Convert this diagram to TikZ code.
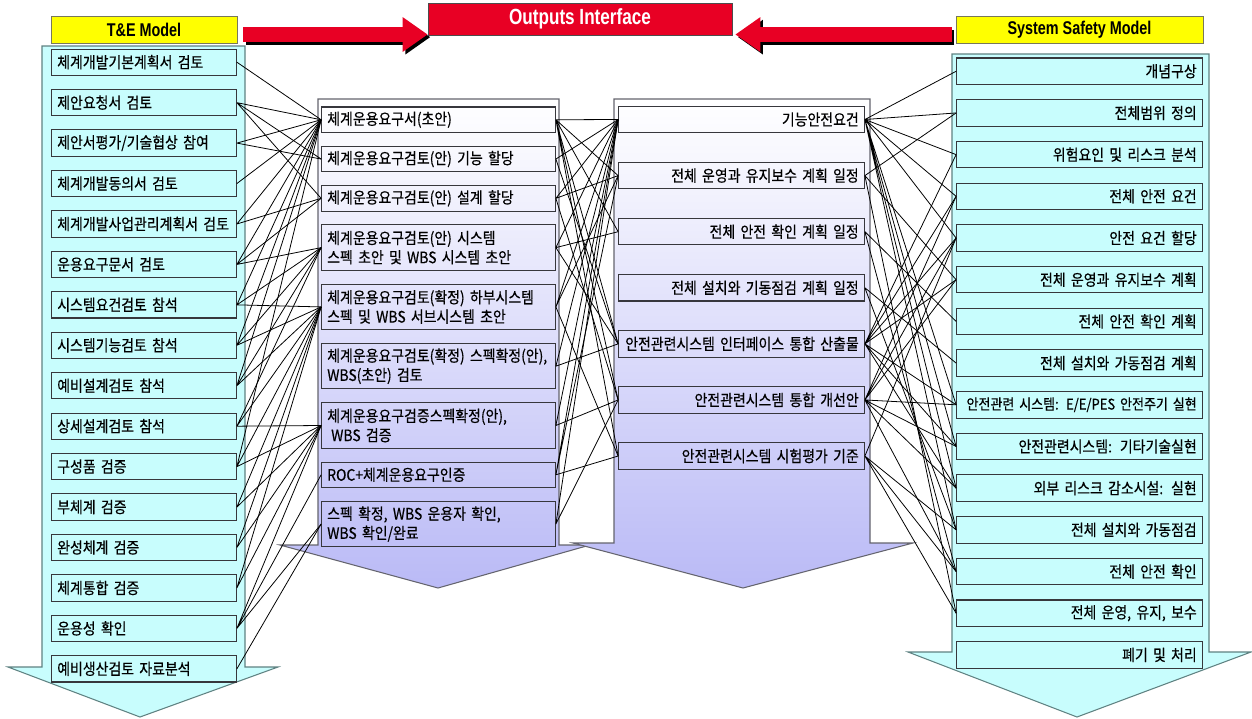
\documentclass[tikz,border=0pt]{standalone}
\usepackage{fontspec}
\usepackage{xcolor}
\usepackage{tikz}
\usetikzlibrary{arrows.meta, positioning, calc}
\newfontfamily\kofont{Noto Sans CJK KR}[FakeStretch=0.88, FakeBold=0.4]
\newfontfamily\headfont{Liberation Sans}[FakeStretch=0.78]
\definecolor{tecyan}{RGB}{200, 253, 253}
\definecolor{cyanline}{RGB}{95, 130, 130}
\definecolor{lavender}{RGB}{186, 186, 246}
\definecolor{lavline}{RGB}{100, 100, 110}
\definecolor{boxline}{RGB}{55, 55, 60}
\definecolor{headyellow}{RGB}{255, 255, 0}
\definecolor{headline}{RGB}{120, 120, 90}
\definecolor{arrowred}{RGB}{232, 0, 36}

\begin{document}
\begin{tikzpicture}[x=0.02cm, y=-0.02cm,
    box/.style={
      draw=boxline, line width=0.6pt, inner xsep=3.5pt, inner ysep=1pt, outer sep=0pt,
      font=\kofont\fontsize{9}{11}\selectfont
    },
    teitem/.style={box, fill=tecyan, text width=3.47cm, align=left, minimum height=0.526cm},
    lmitem/.style={box, text width=4.45cm, align=left, minimum height=0.51cm},
    lmtwo/.style={lmitem, minimum height=0.91cm},
    mritem/.style={box, text width=4.69cm, align=right, minimum height=0.53cm},
    ssitem/.style={box, fill=tecyan, text width=4.69cm, align=right, minimum height=0.53cm},
    header/.style={draw=headline, fill=headyellow, minimum height=0.54cm, inner sep=0pt,
      font=\headfont\bfseries\fontsize{10.5}{12}\selectfont},
    titlebox/.style={fill=arrowred, draw=black!70, text=white, inner sep=0pt,
      minimum width=6.08cm, minimum height=0.64cm,
      font=\headfont\bfseries\fontsize{12.5}{14}\selectfont},
    bigred/.style={line width=8.5pt, draw=arrowred, -{Triangle[length=0.5cm, width=0.66cm]}},
    bigshadow/.style={bigred, draw=black, transform canvas={shift={(1.5pt,-1.5pt)}}},
    cyanbody/.style={fill=tecyan, draw=cyanline, line width=0.6pt},
    lavbody/.style={top color=white, bottom color=lavender, draw=lavline, line width=0.6pt},
    link/.style={line width=0.45pt, draw=black}
]
  \useasboundingbox (0,0) rectangle (1252,718);
  \fill[white] (0,0) rectangle (1252,718);

  % Big down arrows
  \draw[cyanbody] (42,46) -- (245,46) -- (245,667) -- (278,667) -- (140,717)
    -- (8,667) -- (42,667) -- cycle;
  \draw[cyanbody] (952,54) -- (1209,54) -- (1209,652) -- (1251,652) -- (1077,717)
    -- (908,652) -- (952,652) -- cycle;
  \draw[lavbody] (318,99) -- (559,99) -- (559,545) -- (590,545) -- (438,588)
    -- (280,545) -- (318,545) -- cycle;
  \draw[lavbody] (614,99) -- (870,99) -- (870,543) -- (913,543) -- (743,588)
    -- (573,543) -- (614,543) -- cycle;

  % Headers
  \node[header, minimum width=3.72cm] (teheader) at (144,29.5) {T\&E Model};
  \node[header, minimum width=4.94cm] (ssheader) at (1079.5,29.5) {System Safety Model};
  \node[titlebox] (outhead) at (580,19) {Outputs Interface};

  \draw[bigshadow] ($(teheader.east)+(6,5)$) -- ($(teheader.east -| outhead.west)+(0,5)$);
  \draw[bigred] ($(teheader.east)+(6,5)$) -- ($(teheader.east -| outhead.west)+(0,5)$);
  \draw[bigshadow] ($(ssheader.west)+(-4,5)$) -- ($(ssheader.west -| outhead.east)+(3,5)$);
  \draw[bigred] ($(ssheader.west)+(-4,5)$) -- ($(ssheader.west -| outhead.east)+(3,5)$);

  % T&E Model
  \node[teitem] (t1) at (144,62.2) {체계개발기본계획서 검토};
  \node[teitem, below=0.283cm of t1] (t2) {제안요청서 검토};
  \node[teitem, below=0.283cm of t2] (t3) {제안서평가/기술협상 참여};
  \node[teitem, below=0.283cm of t3] (t4) {체계개발동의서 검토};
  \node[teitem, below=0.283cm of t4] (t5) {체계개발사업관리계획서 검토};
  \node[teitem, below=0.283cm of t5] (t6) {운용요구문서 검토};
  \node[teitem, below=0.283cm of t6] (t7) {시스템요건검토 참석};
  \node[teitem, below=0.283cm of t7] (t8) {시스템기능검토 참석};
  \node[teitem, below=0.283cm of t8] (t9) {예비설계검토 참석};
  \node[teitem, below=0.283cm of t9] (t10) {상세설계검토 참석};
  \node[teitem, below=0.283cm of t10] (t11) {구성품 검증};
  \node[teitem, below=0.283cm of t11] (t12) {부체계 검증};
  \node[teitem, below=0.283cm of t12] (t13) {완성체계 검증};
  \node[teitem, below=0.283cm of t13] (t14) {체계통합 검증};
  \node[teitem, below=0.283cm of t14] (t15) {운용성 확인};
  \node[teitem, below=0.283cm of t15] (t16) {예비생산검토 자료분석};

  % Outputs Interface, left
  \node[lmitem] (lm1) at (438.5,119.75) {체계운용요구서(초안)};
  \node[lmitem, below=0.276cm of lm1] (lm2) {체계운용요구검토(안) 기능 할당};
  \node[lmitem, below=0.276cm of lm2] (lm3) {체계운용요구검토(안) 설계 할당};
  \node[lmtwo, below=0.276cm of lm3] (lm4) {체계운용요구검토(안) 시스템\\스펙 초안 및 WBS 시스템 초안};
  \node[lmtwo, below=0.276cm of lm4] (lm5) {체계운용요구검토(확정) 하부시스템\\스펙 및 WBS 서브시스템 초안};
  \node[lmtwo, below=0.276cm of lm5] (lm6) {체계운용요구검토(확정) 스펙확정(안),\\WBS(초안) 검토};
  \node[lmtwo, below=0.276cm of lm6] (lm7) {체계운용요구검증스펙확정(안),\\\hspace*{0.25em}WBS 검증};
  \node[lmitem, below=0.276cm of lm7] (lm8) {ROC+체계운용요구인증};
  \node[lmtwo, below=0.276cm of lm8] (lm9) {스펙 확정, WBS 운용자 확인,\\WBS 확인/완료};

  % Outputs Interface, right
  \node[mritem] (mr1) at (741.5,119.5) {기능안전요건};
  \node[mritem, below=0.592cm of mr1] (mr2) {전체 운영과 유지보수 계획 일정};
  \node[mritem, below=0.592cm of mr2] (mr3) {전체 안전 확인 계획 일정};
  \node[mritem, below=0.592cm of mr3] (mr4) {전체 설치와 기동점검 계획 일정};
  \node[mritem, below=0.592cm of mr4] (mr5) {안전관련시스템 인터페이스 통합 산출물};
  \node[mritem, below=0.592cm of mr5] (mr6) {안전관련시스템 통합 개선안};
  \node[mritem, below=0.592cm of mr6] (mr7) {안전관련시스템 시험평가 기준};

  % System Safety Model
  \node[ssitem] (ss1) at (1079.5,71.25) {개념구상};
  \node[ssitem, below=0.304cm of ss1] (ss2) {전체범위 정의};
  \node[ssitem, below=0.304cm of ss2] (ss3) {위험요인 및 리스크 분석};
  \node[ssitem, below=0.304cm of ss3] (ss4) {전체 안전 요건};
  \node[ssitem, below=0.304cm of ss4] (ss5) {안전 요건 할당};
  \node[ssitem, below=0.304cm of ss5] (ss6) {전체 운영과 유지보수 계획};
  \node[ssitem, below=0.304cm of ss6] (ss7) {전체 안전 확인 계획};
  \node[ssitem, below=0.304cm of ss7] (ss8) {전체 설치와 가동점검 계획};
  \node[ssitem, below=0.304cm of ss8, font=\kofont\fontsize{8.4}{10}\selectfont] (ss9)
    {안전관련 시스템: E/E/PES 안전주기 실현};
  \node[ssitem, below=0.304cm of ss9] (ss10) {안전관련시스템: 기타기술실현};
  \node[ssitem, below=0.304cm of ss10] (ss11) {외부 리스크 감소시설: 실현};
  \node[ssitem, below=0.304cm of ss11] (ss12) {전체 설치와 가동점검};
  \node[ssitem, below=0.304cm of ss12] (ss13) {전체 안전 확인};
  \node[ssitem, below=0.304cm of ss13] (ss14) {전체 운영, 유지, 보수};
  \node[ssitem, below=0.304cm of ss14] (ss15) {폐기 및 처리};

  % T&E -> outputs
  \draw[link] (t1.east) -- (lm1.west);
  \draw[link] (t2.east) -- (lm1.west) (t2.east) -- (lm2.west) (t2.east) -- (lm3.west);
  \draw[link] (t3.east) -- (lm1.west) (t3.east) -- (lm2.west);
  \draw[link] (t4.east) -- (lm1.west);
  \draw[link] (t5.east) -- (lm1.west) (t5.east) -- (lm3.west);
  \draw[link] (t6.east) -- (lm1.west) (t6.east) -- (lm3.west) (t6.east) -- (lm4.west);
  \draw[link] (t7.east) -- (lm1.west) (t7.east) -- (lm4.west) (t7.east) -- (lm5.west);
  \draw[link] (t8.east) -- (lm1.west) (t8.east) -- (lm4.west) (t8.east) -- (lm5.west);
  \draw[link] (t9.east) -- (lm1.west) (t9.east) -- (lm4.west) (t9.east) -- (lm5.west);
  \draw[link] (t10.east) -- (lm4.west) (t10.east) -- (lm5.west) (t10.east) -- (lm7.west);
  \draw[link] (t11.east) -- (lm1.west) (t11.east) -- (lm5.west) (t11.east) -- (lm7.west);
  \draw[link] (t12.east) -- (lm5.west) (t12.east) -- (lm7.west);
  \draw[link] (t13.east) -- (lm5.west) (t13.east) -- (lm7.west);
  \draw[link] (t14.east) -- (lm5.west) (t14.east) -- (lm7.west);
  \draw[link] (t15.east) -- (lm7.west) (t15.east) -- (lm8.west) (t15.east) -- (lm9.west);
  \draw[link] (t16.east) -- (lm9.west);

  % left outputs -> right outputs
  \draw[link] (lm1.east) -- (mr1.west) (lm1.east) -- (mr2.west) (lm1.east) -- (mr3.west)
    (lm1.east) -- (mr5.west) (lm1.east) -- (mr6.west) (lm1.east) -- (mr7.west);
  \draw[link] (lm2.east) -- (mr1.west) (lm2.east) -- (mr5.west);
  \draw[link] (lm3.east) -- (mr1.west) (lm3.east) -- (mr2.west) (lm3.east) -- (mr6.west);
  \draw[link] (lm4.east) -- (mr1.west) (lm4.east) -- (mr3.west) (lm4.east) -- (mr5.west);
  \draw[link] (lm5.east) -- (mr1.west) (lm5.east) -- (mr2.west) (lm5.east) -- (mr7.west);
  \draw[link] (lm6.east) -- (mr1.west) (lm6.east) -- (mr5.west);
  \draw[link] (lm7.east) -- (mr1.west) (lm7.east) -- (mr6.west);
  \draw[link] (lm8.east) -- (mr1.west) (lm8.east) -- (mr2.west) (lm8.east) -- (mr7.west);
  \draw[link] (lm9.east) -- (mr1.west) (lm9.east) -- (mr6.west);

  % right outputs -> System Safety
  \draw[link] (mr1.east) -- (ss1.west) (mr1.east) -- (ss2.west) (mr1.east) -- (ss3.west)
    (mr1.east) -- (ss4.west) (mr1.east) -- (ss5.west) (mr1.east) -- (ss9.west)
    (mr1.east) -- (ss10.west) (mr1.east) -- (ss11.west) (mr1.east) -- (ss12.west);
  \draw[link] (mr2.east) -- (ss2.west) (mr2.east) -- (ss6.west) (mr2.east) -- (ss14.west);
  \draw[link] (mr3.east) -- (ss7.west) (mr3.east) -- (ss13.west);
  \draw[link] (mr4.east) -- (ss8.west) (mr4.east) -- (ss12.west);
  \draw[link] (mr5.east) -- (ss3.west) (mr5.east) -- (ss4.west) (mr5.east) -- (ss5.west)
    (mr5.east) -- (ss6.west) (mr5.east) -- (ss9.west) (mr5.east) -- (ss10.west)
    (mr5.east) -- (ss11.west);
  \draw[link] (mr6.east) -- (ss4.west) (mr6.east) -- (ss5.west) (mr6.east) -- (ss6.west)
    (mr6.east) -- (ss9.west) (mr6.east) -- (ss10.west) (mr6.east) -- (ss11.west)
    (mr6.east) -- (ss13.west);
  \draw[link] (mr7.east) -- (ss5.west) (mr7.east) -- (ss12.west) (mr7.east) -- (ss13.west)
    (mr7.east) -- (ss14.west);
\end{tikzpicture}
\end{document}
